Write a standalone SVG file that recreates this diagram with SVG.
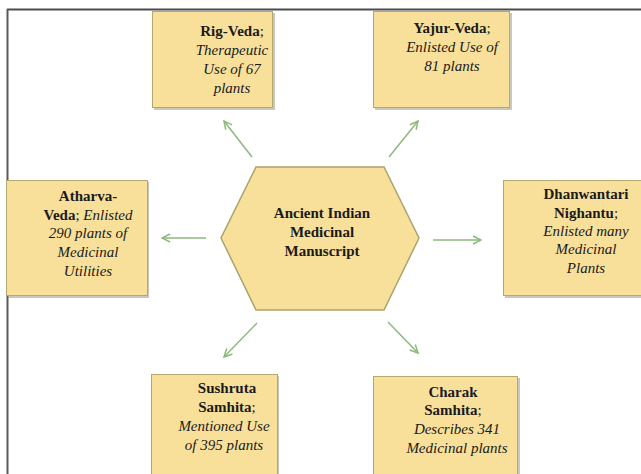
<svg xmlns="http://www.w3.org/2000/svg" width="641" height="474" viewBox="0 0 641 474">
<defs>
<style>
.box{fill:#F9E09A;stroke:#B5A86E;stroke-width:1}
.sh{fill:#9a9a8a;opacity:0.55}
text{font-family:"Liberation Serif","Times New Roman",serif;font-size:15px;fill:#1a1a1a;text-anchor:middle}
.b{font-weight:bold}
.i{font-style:italic}
.con{stroke:#8DB97E;stroke-width:1.5;fill:none;marker-end:url(#ah)}
</style>
<marker id="ah" viewBox="0 0 10 10" refX="9" refY="5" markerWidth="10" markerHeight="10" markerUnits="userSpaceOnUse" orient="auto">
<path d="M1,1 L9,5 L1,9" fill="none" stroke="#8DB97E" stroke-width="1.5"/>
</marker>
</defs>
<rect width="641" height="474" fill="#fff"/>
<g id="frame">
<line x1="7" y1="9.5" x2="641" y2="9.5" stroke="#4a4a4a" stroke-width="2"/>
<line x1="7.5" y1="9" x2="7.5" y2="474" stroke="#5a5a5a" stroke-width="2"/>
</g>
<g id="connectors">
<line class="con" x1="252" y1="157" x2="224" y2="121"/>
<line class="con" x1="389" y1="157" x2="418" y2="121"/>
<line class="con" x1="206" y1="238" x2="162" y2="238"/>
<line class="con" x1="433" y1="240" x2="481" y2="240"/>
<line class="con" x1="257" y1="323" x2="224" y2="357"/>
<line class="con" x1="388" y1="322" x2="418" y2="353"/>
</g>
<g id="center">
<polygon points="256,167 384,167 419,238 384,310 256,310 221,238" fill="#F9E09A" stroke="#A9A46C" stroke-width="1.5"/>
<text class="b" x="322" y="218">Ancient Indian</text>
<text class="b" x="322" y="237">Medicinal</text>
<text class="b" x="322" y="256">Manuscript</text>
</g>
<g id="rigveda">
<rect class="sh" x="154" y="13" width="121" height="97"/>
<rect class="box" x="152.5" y="11.5" width="120" height="96"/>
<text x="232" y="36"><tspan class="b">Rig-Veda</tspan>;</text>
<text class="i" x="232" y="55">Therapeutic</text>
<text class="i" x="232" y="74">Use of 67</text>
<text class="i" x="232" y="93">plants</text>
</g>
<g id="yajurveda">
<rect class="sh" x="375" y="13" width="137" height="97"/>
<rect class="box" x="373.5" y="11.5" width="136" height="96"/>
<text x="452" y="33"><tspan class="b">Yajur-Veda</tspan>;</text>
<text class="i" x="452" y="52">Enlisted Use of</text>
<text class="i" x="452" y="71">81 plants</text>
</g>
<g id="atharvaveda">
<rect class="sh" x="8" y="182" width="141" height="116"/>
<rect class="box" x="6.5" y="180.5" width="141" height="115"/>
<text class="b" x="88" y="201">Atharva-</text>
<text x="88" y="220"><tspan class="b">Veda</tspan>; <tspan class="i">Enlisted</tspan></text>
<text class="i" x="88" y="238">290 plants of</text>
<text class="i" x="88" y="257">Medicinal</text>
<text class="i" x="88" y="276">Utilities</text>
</g>
<g id="dhanwantari">
<rect class="sh" x="505" y="182" width="138" height="116"/>
<rect class="box" x="503.5" y="180.5" width="140" height="115"/>
<text class="b" x="586" y="199">Dhanwantari</text>
<text x="586" y="218"><tspan class="b">Nighantu</tspan>;</text>
<text class="i" x="586" y="236">Enlisted many</text>
<text class="i" x="586" y="254">Medicinal</text>
<text class="i" x="586" y="273">Plants</text>
</g>
<g id="sushruta">
<rect class="sh" x="153" y="376" width="126" height="100"/>
<rect class="box" x="151.5" y="374.5" width="126" height="102"/>
<text class="b" x="227" y="393">Sushruta</text>
<text x="227" y="412"><tspan class="b">Samhita</tspan>;</text>
<text class="i" x="224" y="431">Mentioned Use</text>
<text class="i" x="224" y="450">of 395 plants</text>
</g>
<g id="charak">
<rect class="sh" x="375" y="378" width="145" height="98"/>
<rect class="box" x="373.5" y="376.5" width="144" height="100"/>
<text class="b" x="453" y="397">Charak</text>
<text x="453" y="415"><tspan class="b">Samhita</tspan>;</text>
<text class="i" x="457" y="434">Describes 341</text>
<text class="i" x="457" y="453">Medicinal plants</text>
</g>
</svg>
